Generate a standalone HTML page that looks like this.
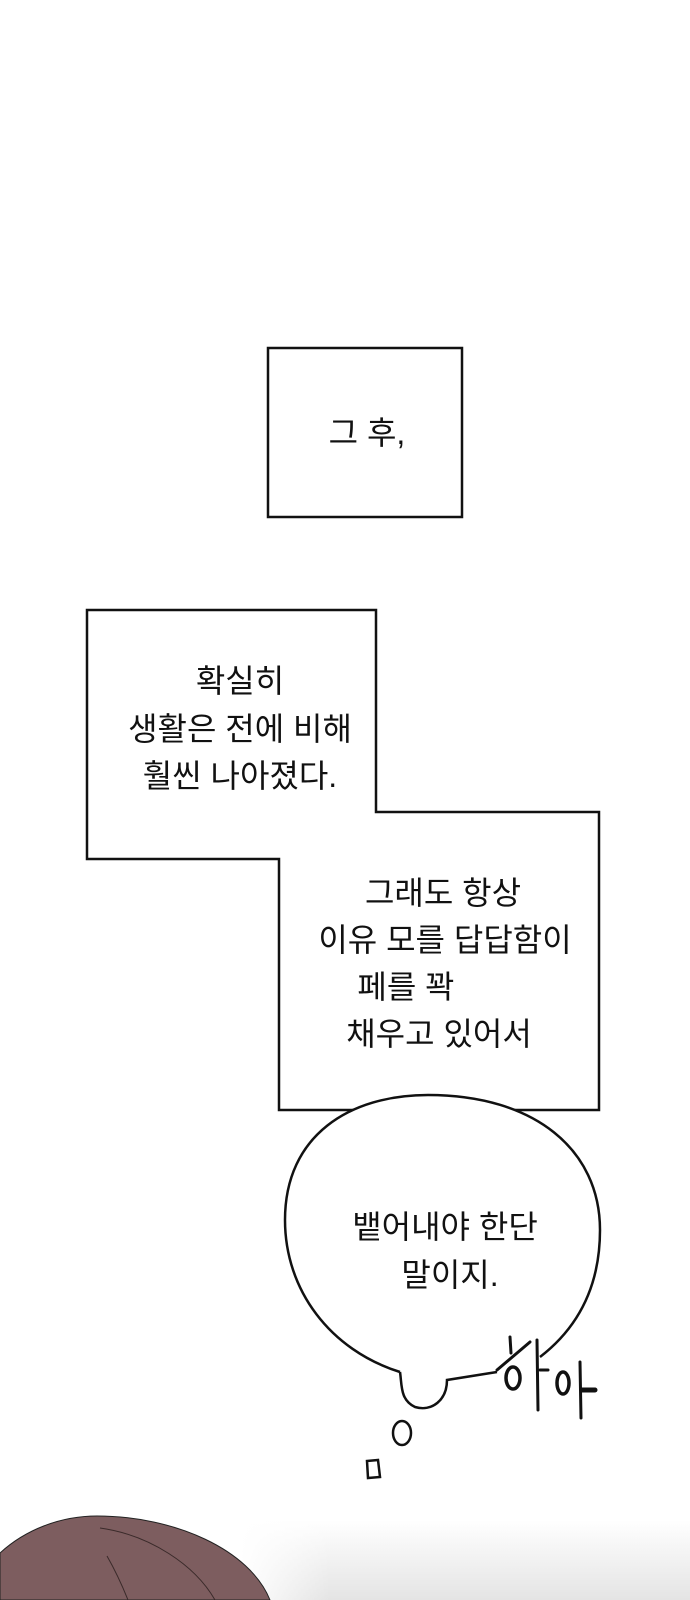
<!DOCTYPE html>
<html><head><meta charset="utf-8"><style>
html,body{margin:0;padding:0;background:#fff;}
svg{display:block;}
text{font-family:"Liberation Sans","Noto Sans CJK KR",sans-serif;font-size:32px;fill:#111;text-anchor:middle;}
</style></head><body>
<svg width="690" height="1600" viewBox="0 0 690 1600" xmlns="http://www.w3.org/2000/svg">
<defs>
<linearGradient id="g" x1="0" y1="0" x2="0" y2="1">
<stop offset="0" stop-color="#fff"/><stop offset="1" stop-color="#e4e4e4"/>
</linearGradient>
<linearGradient id="h" x1="0" y1="0" x2="1" y2="0">
<stop offset="0" stop-color="#fff" stop-opacity="1"/><stop offset="0.2" stop-color="#fff" stop-opacity="0"/>
</linearGradient>
</defs>
<rect x="240" y="1520" width="450" height="80" fill="url(#g)"/>
<rect x="240" y="1520" width="450" height="80" fill="url(#h)"/>
<rect x="268" y="348" width="194" height="169" fill="#fff" stroke="#111" stroke-width="2.5"/>
<text x="367" y="444">그 후,</text>
<path d="M87,610 L376,610 L376,812 L599,812 L599,1110 L279,1110 L279,859 L87,859 Z" fill="#fff" stroke="#111" stroke-width="2.5"/>
<text x="240" y="692">확실히</text>
<text x="240" y="740">생활은 전에 비해</text>
<text x="240" y="787">훨씬 나아졌다.</text>
<text x="443" y="904">그래도 항상</text>
<text x="445" y="951">이유 모를 답답함이</text>
<text x="406" y="998">페를 꽉</text>
<text x="439" y="1045">채우고 있어서</text>
<path d="M400,1372 C330,1350 285,1290 285,1220 C285,1135 350,1095 428,1095 C535,1095 600,1150 600,1230 C600,1290 575,1330 540,1357" fill="#fff" stroke="#111" stroke-width="2.5"/>
<path d="M400,1372 C402,1385 400,1400 415,1407 C432,1412 447,1400 447,1380 L497,1372" fill="#fff" stroke="#111" stroke-width="2.5"/>
<text x="445" y="1238">뱉어내야 한단</text>
<text x="450" y="1286">말이지.</text>
<g stroke="#111" stroke-linecap="round" fill="none">
<path d="M510,1337 L511,1353" stroke-width="3"/>
<path d="M497,1370 L530,1342" stroke-width="3"/>
<ellipse cx="513" cy="1378" rx="7" ry="11" stroke-width="3.5"/>
<path d="M537,1340 L538,1410" stroke-width="3"/>
<path d="M540,1370 L548,1370" stroke-width="3"/>
<ellipse cx="563" cy="1383" rx="6" ry="11" stroke-width="3.5"/>
<path d="M580,1362 L581,1418" stroke-width="3"/>
<path d="M582,1390 L595,1390" stroke-width="5"/>
<ellipse cx="402" cy="1433" rx="9" ry="12" stroke-width="2.5"/>
<path d="M367,1461 L378,1460 L380,1477 L368,1478 Z" stroke-width="2.5"/>
</g>
<path d="M0,1553 C25,1530 60,1516 97,1516 C175,1516 250,1550 270,1600 L0,1600 Z" fill="#7d5d5f" stroke="#222" stroke-width="1"/>
<path d="M100,1528 C150,1535 195,1565 215,1600" fill="none" stroke="#3a2a2a" stroke-width="1"/>
<path d="M107,1556 C115,1570 122,1585 128,1600" fill="none" stroke="#3a2a2a" stroke-width="1"/>
</svg>
</body></html>
